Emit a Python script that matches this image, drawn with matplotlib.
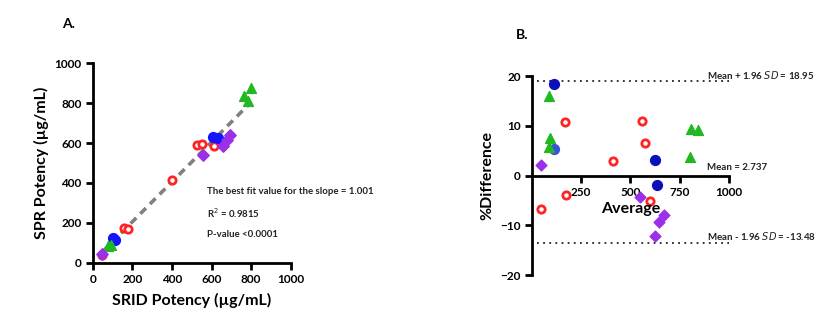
import matplotlib.pyplot as plt

plt.rcParams['font.family'] = ['Lato', 'DejaVu Sans']

# Panel A: SRID vs SPR potency (ug/mL), one list per group
RED_SRID = [49, 158, 180, 402, 525, 552, 614]
RED_SPR = [38, 176, 171, 415, 589, 594, 587]
BLUE_SRID = [104, 113, 609, 635]
BLUE_SPR = [122, 114, 632, 627]
GREEN_SRID = [79, 93, 766, 786, 800]
GREEN_SPR = [84, 89, 838, 811, 878]
PURPLE_SRID = [49, 556, 660, 677, 694]
PURPLE_SPR = [43, 538, 587, 615, 642]

FIT_SLOPE = 1.001
FIT_INTERCEPT = 5
FIT_RANGE = [45, 790]

# Panel B: Bland-Altman, average vs % difference
RED_AVG = [47, 168, 175, 412, 558, 576, 600]
RED_DIFF = [-6.7, 10.8, -4.0, 3.0, 10.9, 6.6, -5.2]
BLUE_AVG = [114, 114, 627, 636]
BLUE_DIFF = [18.3, 5.4, 3.2, -2.0]
GREEN_AVG = [86, 93, 85, 808, 842, 803]
GREEN_DIFF = [16.0, 7.6, 5.8, 9.3, 9.2, 3.7]
PURPLE_AVG = [47, 547, 673, 647, 625]
PURPLE_DIFF = [2.2, -4.3, -8.0, -9.3, -12.2]

MEAN_DIFF = 2.737
UPPER_LOA = 18.95
LOWER_LOA = -13.48

RED = '#ff2424'
GREEN = '#22b822'
PURPLE = '#9a30e8'

fig = plt.figure(figsize=(8.37, 3.23), dpi=100)

# ---------- panel A ----------
ax = fig.add_axes([0.1108, 0.1867, 0.2366, 0.6173])
ax.plot(FIT_RANGE, [FIT_SLOPE * v + FIT_INTERCEPT for v in FIT_RANGE],
        color='#808080', lw=2.6, ls=(0, (2.2, 1.6)), zorder=1)
ax.scatter(RED_SRID, RED_SPR, s=28, facecolor='white', edgecolor=RED, linewidth=2, zorder=3)
ax.scatter(BLUE_SRID, BLUE_SPR, s=50, color='#1414ff', zorder=3)
ax.scatter(GREEN_SRID, GREEN_SPR, s=50, marker='^', color=GREEN, zorder=3)
ax.scatter(PURPLE_SRID, PURPLE_SPR, s=34, marker='D', color=PURPLE, zorder=3)

ax.set_xlim(0, 1000)
ax.set_ylim(0, 1000)
ax.set_xticks([0, 200, 400, 600, 800, 1000])
ax.set_yticks([0, 200, 400, 600, 800, 1000])
for s in ['top', 'right']:
    ax.spines[s].set_visible(False)
for s in ['left', 'bottom']:
    ax.spines[s].set_linewidth(2)
ax.tick_params(width=2, length=5, labelsize=8.5, pad=3)
for lbl in ax.get_xticklabels() + ax.get_yticklabels():
    lbl.set_fontweight('bold')
ax.set_xlabel('SRID Potency (µg/mL)', fontsize=11.5, fontweight='bold', labelpad=6)
ax.set_ylabel('SPR Potency (µg/mL)', fontsize=11.5, fontweight='bold', labelpad=4)

ax.text(576, 356, 'The best fit value for the slope = 1.001', fontsize=6.9,
        fontweight='bold', va='center', color='#222222')
ax.text(576, 247, 'R$^2$ = 0.9815', fontsize=6.9, fontweight='bold', va='center', color='#222222')
ax.text(576, 140, 'P-value <0.0001', fontsize=6.9, fontweight='bold', va='center', color='#222222')
fig.text(62 / 837, 1 - 24 / 323, 'A.', fontsize=10, fontweight='bold', va='center')

# ---------- panel B ----------
bx = fig.add_axes([0.6356, 0.1486, 0.235, 0.616])
bx.scatter(RED_AVG, RED_DIFF, s=28, facecolor='white', edgecolor=RED, linewidth=2, zorder=3)
bx.scatter(BLUE_AVG[:1] + BLUE_AVG[2:], BLUE_DIFF[:1] + BLUE_DIFF[2:], s=50, color='#0c10b8', zorder=3)
bx.scatter(BLUE_AVG[1:2], BLUE_DIFF[1:2], s=50, color='#3a52d8', zorder=3)
bx.scatter(GREEN_AVG, GREEN_DIFF, s=50, marker='^', color=GREEN, zorder=3)
bx.scatter(PURPLE_AVG, PURPLE_DIFF, s=30, marker='D', color=PURPLE, zorder=3)

bx.hlines([UPPER_LOA, LOWER_LOA], 27, 1000, colors='#222222', lw=1.3, linestyles=(0, (1, 2.4)))

bx.set_xlim(0, 1000)
bx.set_ylim(-20, 20)
bx.set_xticks([250, 500, 750, 1000])
bx.set_yticks([-20, -10, 0, 10, 20])
bx.spines['bottom'].set_position(('data', 0))
for s in ['top', 'right']:
    bx.spines[s].set_visible(False)
for s in ['left', 'bottom']:
    bx.spines[s].set_linewidth(2)
bx.tick_params(width=2, length=5, labelsize=8.5, pad=3)
for lbl in bx.get_xticklabels() + bx.get_yticklabels():
    lbl.set_fontweight('bold')
bx.set_ylabel('%Difference', fontsize=11.5, fontweight='bold', labelpad=4)
bx.text(500, -6.8, 'Average', fontsize=11.5, fontweight='bold', ha='center', va='center')

bx.text(890, UPPER_LOA + 1.3, 'Mean + 1.96 $\\it{SD}$ = 18.95', fontsize=7,
        fontweight='bold', va='center', color='#222222', clip_on=False)
bx.text(890, MEAN_DIFF - 1.2, 'Mean = 2.737', fontsize=7,
        fontweight='bold', va='center', color='#222222', clip_on=False)
bx.text(890, LOWER_LOA + 1.4, 'Mean - 1.96 $\\it{SD}$ = -13.48', fontsize=7,
        fontweight='bold', va='center', color='#222222', clip_on=False)
fig.text(516 / 837, 1 - 35 / 323, 'B.', fontsize=10, fontweight='bold', va='center')

fig.savefig('out.png', dpi=100)
